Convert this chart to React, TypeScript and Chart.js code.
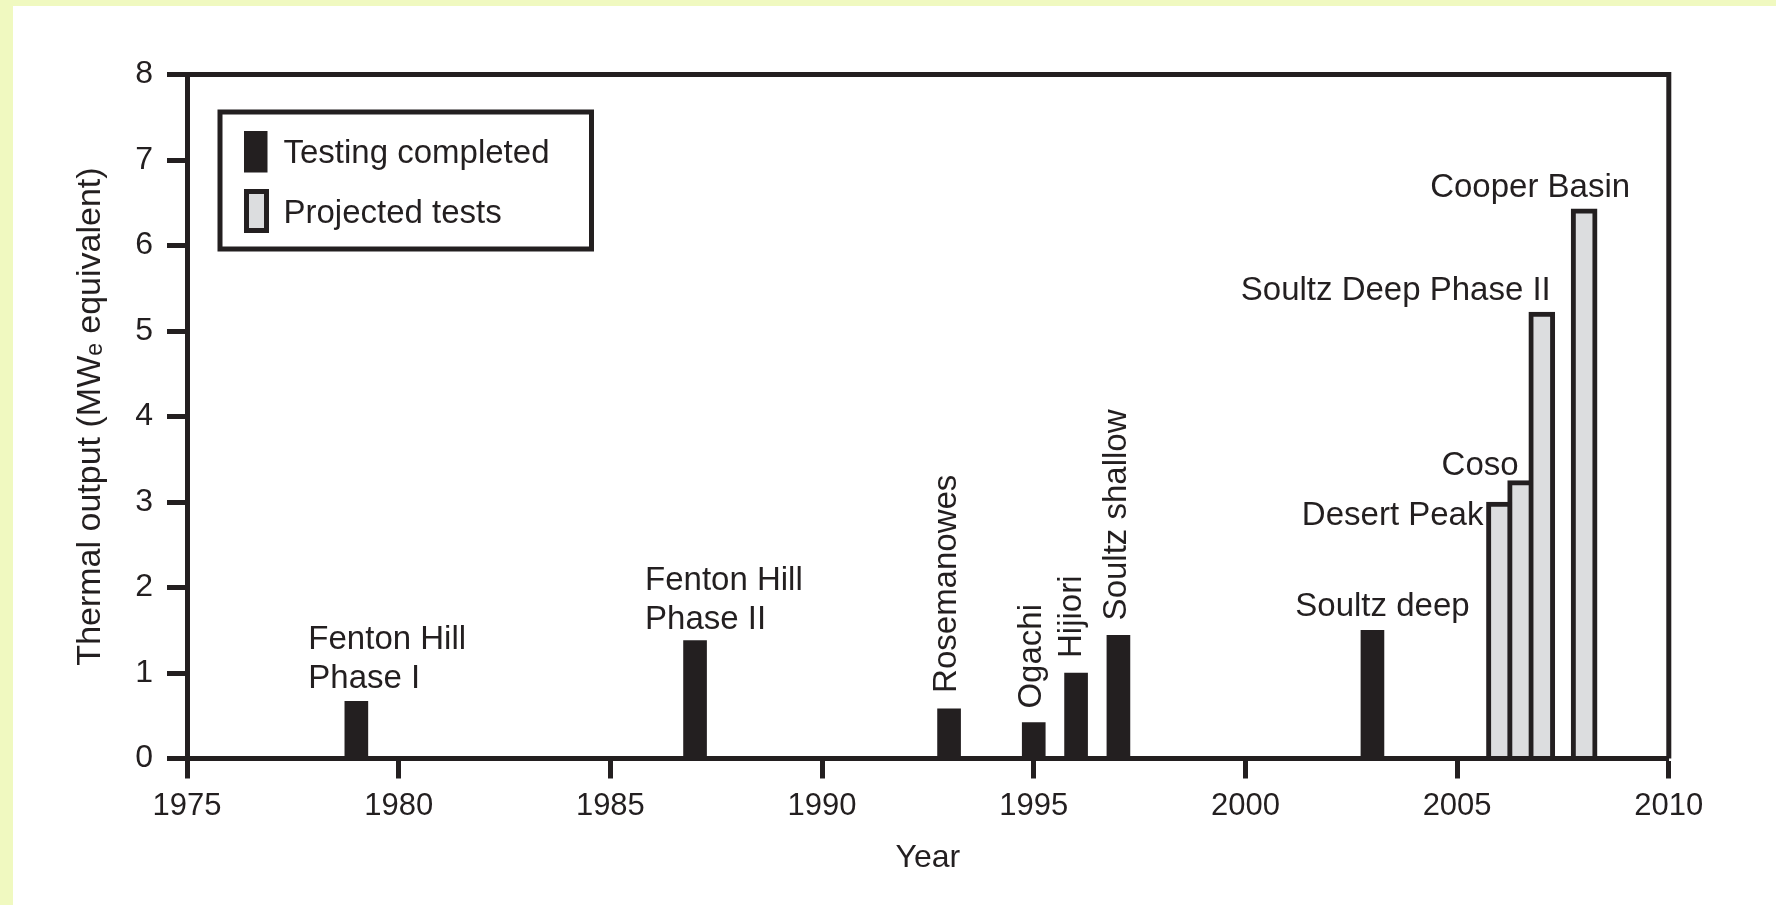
import React, { useEffect, useRef } from "react";
import { Chart, registerables } from "chart.js";

Chart.register(...registerables);

// ---------- data ----------
const completedYears = [1979, 1987, 1993, 1995, 1996, 1997, 2003];
const completedOutput = [0.67, 1.38, 0.58, 0.42, 1.0, 1.44, 1.5];
const completedNames = [
  "Fenton Hill\nPhase I",
  "Fenton Hill\nPhase II",
  "Rosemanowes",
  "Ogachi",
  "Hijiori",
  "Soultz shallow",
  "Soultz deep",
];

const projectedYears = [2006, 2006.5, 2007, 2008];
const projectedOutput = [3.0, 3.25, 5.22, 6.43];
const projectedNames = ["Desert Peak", "Coso", "Soultz Deep Phase II", "Cooper Basin"];

const seriesLabels = ["Testing completed", "Projected tests"];
const yearTicks = [1975, 1980, 1985, 1990, 1995, 2000, 2005, 2010];
const outputTicks = [0, 1, 2, 3, 4, 5, 6, 7, 8];
const xTitle = "Year";
const yTitle = "Thermal output (MW\u2091 equivalent)";

// ---------- styles / placement ----------
const DARK = "#231f20";
const LIGHT = "#dcdddf";
const SANS = "'Liberation Sans', Arial, sans-serif";
const LABEL_FONT = `33px ${SANS}`;

type Place = { mode: "left" | "right" | "center" | "up"; dx: number; dy: number };
const completedPlace: Place[] = [
  { mode: "left", dx: -48, dy: -13 },
  { mode: "left", dx: -50, dy: -12 },
  { mode: "up", dx: -2, dy: -16 },
  { mode: "up", dx: -2, dy: -14 },
  { mode: "up", dx: -4, dy: -15 },
  { mode: "up", dx: -2, dy: -15 },
  { mode: "center", dx: 10, dy: -14 },
];
const projectedPlace: Place[] = [
  { mode: "right", dx: -16, dy: 23 },
  { mode: "right", dx: -2, dy: -6 },
  { mode: "right", dx: 9, dy: -12 },
  { mode: "right", dx: 46, dy: -12 },
];

const barLabelPlugin = {
  id: "barLabels",
  afterDatasetsDraw(chart: any) {
    const ctx = chart.ctx;
    const groups = [
      { names: completedNames, place: completedPlace },
      { names: projectedNames, place: projectedPlace },
    ];
    ctx.save();
    ctx.fillStyle = DARK;
    ctx.font = LABEL_FONT;
    groups.forEach((g, di) => {
      const meta = chart.getDatasetMeta(di);
      meta.data.forEach((el: any, i: number) => {
        const { x, y } = el.getProps(["x", "y"], true);
        const p = g.place[i];
        const lines = g.names[i].split("\n");
        if (p.mode === "up") {
          ctx.save();
          ctx.translate(x + p.dx, y + p.dy);
          ctx.rotate(-Math.PI / 2);
          ctx.textAlign = "left";
          ctx.textBaseline = "middle";
          ctx.fillText(lines.join(" "), 0, 0);
          ctx.restore();
        } else {
          ctx.textAlign = p.mode;
          ctx.textBaseline = "alphabetic";
          const lh = 39;
          lines.forEach((ln: string, k: number) => {
            ctx.fillText(ln, x + p.dx, y + p.dy - (lines.length - 1 - k) * lh);
          });
        }
      });
    });
    ctx.restore();
  },
};

const framePlugin = {
  id: "frameAndLegend",
  afterDraw(chart: any) {
    const ctx = chart.ctx;
    const { left, right, top, bottom } = chart.chartArea;
    ctx.save();
    ctx.strokeStyle = DARK;
    ctx.lineWidth = 5;
    ctx.lineCap = "butt";
    ctx.beginPath();
    ctx.moveTo(left, top);
    ctx.lineTo(right + 2.5, top);
    ctx.moveTo(right, top);
    ctx.lineTo(right, bottom);
    ctx.stroke();

    // legend box
    const lx = left + 33;
    const ly = top + 37.5;
    ctx.strokeRect(lx, ly, 371.5, 137);
    const ds = chart.data.datasets;
    ctx.fillStyle = ds[0].backgroundColor;
    ctx.fillRect(lx + 24, ly + 19, 23.5, 41.5);
    ctx.fillStyle = ds[1].borderColor;
    ctx.fillRect(lx + 24, ly + 77, 25, 44);
    ctx.fillStyle = ds[1].backgroundColor;
    ctx.fillRect(lx + 29, ly + 82, 15, 34);
    ctx.fillStyle = DARK;
    ctx.font = LABEL_FONT;
    ctx.textAlign = "left";
    ctx.textBaseline = "alphabetic";
    ctx.fillText(ds[0].label, lx + 63.5, ly + 51);
    ctx.fillText(ds[1].label, lx + 63.5, ly + 110.5);
    ctx.restore();
  },
};

export default function App() {
  const ref = useRef<HTMLCanvasElement>(null);

  useEffect(() => {
    const canvas = ref.current;
    if (!canvas) return;
    const chart = new Chart(canvas, {
      type: "bar",
      data: {
        datasets: [
          {
            label: seriesLabels[0],
            data: completedYears.map((x, i) => ({ x, y: completedOutput[i] })),
            backgroundColor: DARK,
            borderWidth: 0,
            barThickness: 23,
            grouped: false,
          } as any,
          {
            label: seriesLabels[1],
            data: projectedYears.map((x, i) => ({ x, y: projectedOutput[i] })),
            backgroundColor: LIGHT,
            borderColor: DARK,
            borderWidth: 5,
            barThickness: 26,
            grouped: false,
          } as any,
        ],
      },
      options: {
        animation: false,
        responsive: false,
        events: [],
        layout: { padding: { top: 74.5, right: 107.2, left: 0, bottom: 0 } },
        plugins: {
          legend: { display: false },
          tooltip: { enabled: false },
        },
        scales: {
          x: {
            type: "linear",
            offset: false,
            min: yearTicks[0],
            max: yearTicks[yearTicks.length - 1],
            afterBuildTicks: (scale: any) => {
              scale.ticks = yearTicks.map((v) => ({ value: v }));
            },
            afterFit: (scale: any) => {
              scale.height = 146.5;
            },
            ticks: {
              autoSkip: false,
              maxRotation: 0,
              padding: 9,
              color: DARK,
              font: { family: SANS, size: 31 },
              callback: (v: any) => String(v),
            },
            grid: {
              offset: false,
              drawOnChartArea: false,
              drawTicks: true,
              tickLength: 20,
              tickWidth: 5,
              tickColor: DARK,
              z: 1,
            },
            border: { display: true, width: 5, color: DARK, z: 1 },
            title: {
              display: true,
              text: xTitle,
              color: DARK,
              font: { family: SANS, size: 32 },
              padding: { top: 0, bottom: 28 },
            },
          },
          y: {
            type: "linear",
            min: outputTicks[0],
            max: outputTicks[outputTicks.length - 1],
            afterBuildTicks: (scale: any) => {
              scale.ticks = outputTicks.map((v) => ({ value: v }));
            },
            afterFit: (scale: any) => {
              scale.width = 187;
            },
            ticks: {
              padding: 14,
              color: DARK,
              font: { family: SANS, size: 32 },
              callback: (v: any) => String(v),
            },
            grid: {
              offset: false,
              drawOnChartArea: false,
              drawTicks: true,
              tickLength: 20,
              tickWidth: 5,
              tickColor: DARK,
            },
            border: { display: true, width: 5, color: DARK },
            title: {
              display: true,
              text: yTitle,
              color: DARK,
              font: { family: SANS, size: 34 },
              padding: { top: 70, bottom: 0 },
            },
          },
        },
      } as any,
      plugins: [barLabelPlugin, framePlugin],
    });
    return () => chart.destroy();
  }, []);

  return (
    <div
      style={{
        position: "fixed",
        left: 0,
        top: 0,
        width: 1776,
        height: 905,
        background: "#f0f9c0",
        overflow: "hidden",
      }}
    >
      <div
        style={{
          position: "absolute",
          left: 13,
          top: 6,
          right: 0,
          bottom: 0,
          background: "#ffffff",
        }}
      />
      <canvas
        ref={ref}
        width={1776}
        height={905}
        style={{ position: "absolute", left: 0, top: 0, width: 1776, height: 905 }}
      />
    </div>
  );
}
